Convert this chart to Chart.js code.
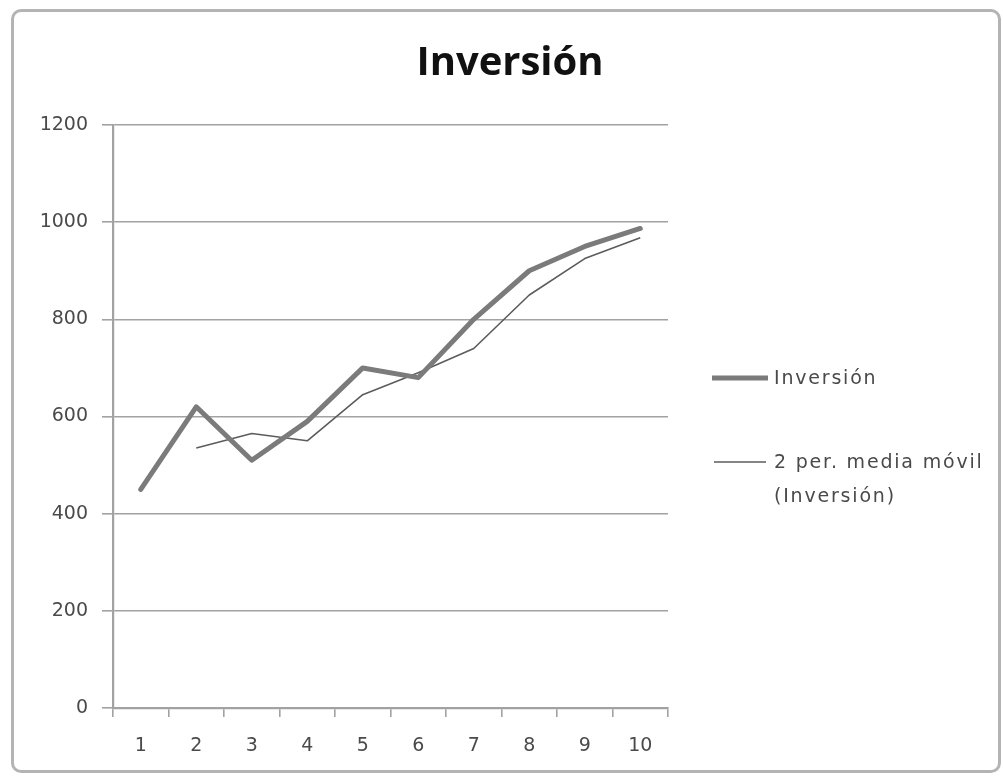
<!DOCTYPE html>
<html>
<head>
<meta charset="utf-8">
<title>Inversión</title>
<script src="https://cdn.jsdelivr.net/npm/chart.js@4.4.1/dist/chart.umd.min.js"></script>
<style>
  body { margin: 0; background: #fff; }
  #wrap { position: relative; width: 1003px; height: 776px; }
  #frame {
    position: absolute; left: 11px; top: 9px; width: 984px; height: 758px;
    border: 3px solid #b4b4b4; border-radius: 10px; box-sizing: content-box;
  }
  canvas { position: absolute; left: 0; top: 0; }
</style>
</head>
<body>
<div id="wrap">
  <div id="frame"></div>
  <canvas id="myChart" width="1003" height="776"></canvas>
</div>
<script>
// periods on the x axis
var categories = ['1', '2', '3', '4', '5', '6', '7', '8', '9', '10'];
// investment per period
var inversion = [450, 620, 510, 590, 700, 680, 800, 900, 950, 987];
// 2 period moving average, starts on the second period
var mediaMovil = [null, 535, 565, 550, 645, 690, 740, 850, 925, 968];
// y axis range
var yMin = 0;
var yMax = 1200;
var yStep = 200;

var axisColor = '#a2a2a2';
var labelColor = '#4a4a4a';

// title and right side legend, drawn next to the plot area
var sidePlugin = {
  id: 'sideText',
  afterDraw: function(chart) {
    var c = chart.ctx;
    c.save();
    c.fillStyle = '#111';
    c.font = 'bold 40px "Open Sans"';
    c.textAlign = 'center';
    c.textBaseline = 'middle';
    c.fillText('Inversión', 510, 64);

    var ds = chart.data.datasets;
    c.lineCap = 'butt';
    c.strokeStyle = ds[0].borderColor;
    c.lineWidth = ds[0].borderWidth;
    c.beginPath(); c.moveTo(712, 378); c.lineTo(768, 378); c.stroke();
    c.strokeStyle = ds[1].borderColor;
    c.lineWidth = ds[1].borderWidth;
    c.beginPath(); c.moveTo(714, 462); c.lineTo(766, 462); c.stroke();

    c.fillStyle = labelColor;
    c.font = '19px "DejaVu Sans"';
    c.letterSpacing = '1.8px';
    c.textAlign = 'left';
    c.fillText('Inversión', 774, 379);
    c.fillText('2 per. media móvil', 774, 463);
    c.fillText('(Inversión)', 774, 497);
    // spacing is not always undone by restore()
    c.letterSpacing = '0px';
    c.restore();
  }
};

var ctx = document.getElementById('myChart');
var myLineChart = new Chart(ctx, {
  type: 'line',
  data: {
    labels: categories,
    datasets: [
      {
        label: 'Inversión',
        data: inversion,
        borderColor: '#7b7b7b',
        borderWidth: 5,
        borderJoinStyle: 'round',
        borderCapStyle: 'round',
        pointRadius: 0,
        tension: 0,
        fill: false
      },
      {
        label: '2 per. media móvil (Inversión)',
        data: mediaMovil,
        borderColor: '#5c5c5c',
        borderWidth: 1.6,
        borderJoinStyle: 'round',
        pointRadius: 0,
        tension: 0,
        fill: false,
        spanGaps: false
      }
    ]
  },
  options: {
    responsive: false,
    animation: false,
    layout: { padding: { left: 0, top: 125, right: 335, bottom: 0 } },
    plugins: {
      legend: { display: false },
      title: { display: false },
      tooltip: { enabled: false }
    },
    scales: {
      x: {
        type: 'category',
        offset: true,
        grid: {
          offset: true,
          drawOnChartArea: false,
          tickLength: 9,
          color: axisColor,
          lineWidth: 1.6
        },
        border: { color: axisColor, width: 2.2 },
        ticks: {
          color: labelColor,
          font: { family: 'DejaVu Sans', size: 19 },
          padding: 18,
          maxRotation: 0
        },
        afterFit: function(scale) { scale.height = 68; }
      },
      y: {
        min: yMin,
        max: yMax,
        grid: {
          color: axisColor,
          lineWidth: 1.6,
          tickLength: 11
        },
        border: { color: axisColor, width: 2.2 },
        ticks: {
          stepSize: yStep,
          color: labelColor,
          font: { family: 'DejaVu Sans', size: 19 },
          padding: 14,
          callback: function(value) { return String(value); }
        },
        afterFit: function(scale) { scale.width = 113; }
      }
    }
  },
  plugins: [sidePlugin]
});
</script>
</body>
</html>
